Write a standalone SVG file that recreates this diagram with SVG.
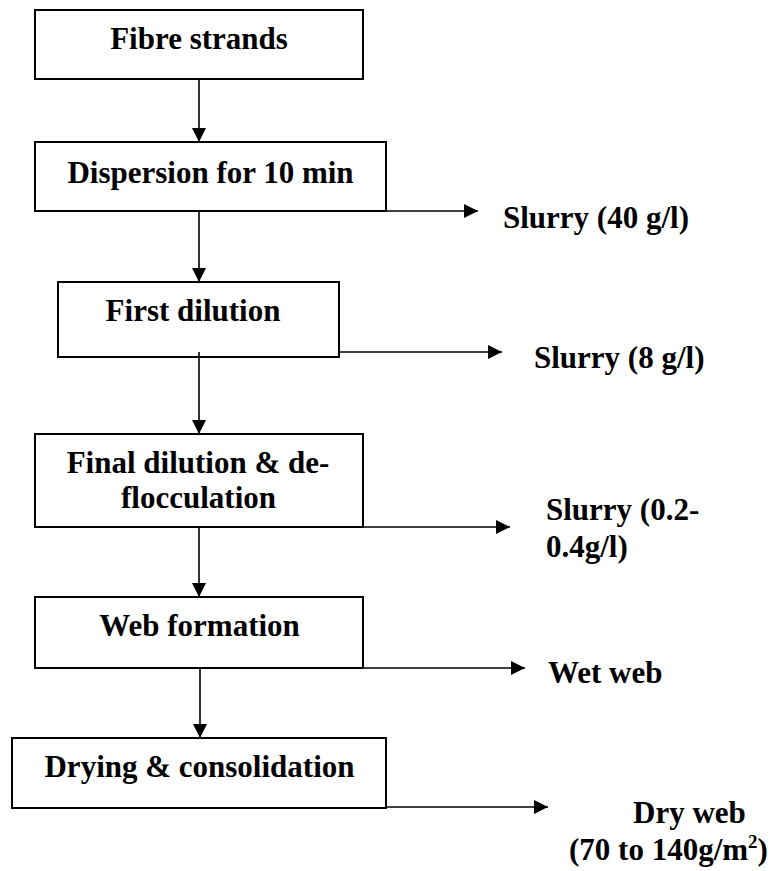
<svg xmlns="http://www.w3.org/2000/svg" width="783" height="871" viewBox="0 0 783 871">
  <style>
    .box { fill: #ffffff; stroke: #000000; stroke-width: 2; }
    .lbl { font-family: "Liberation Serif", "Times New Roman", serif; font-weight: bold; font-size: 31px; fill: #000000; }
    .mid { text-anchor: middle; }
    .conn line { stroke: #000000; stroke-width: 1.6; fill: none; }
  </style>
  <defs>
    <marker id="arrow" viewBox="0 0 14 14" refX="14" refY="7" markerWidth="14" markerHeight="14" markerUnits="userSpaceOnUse" orient="auto">
      <path d="M0,0 L14,7 L0,14 Z" fill="#000000"/>
    </marker>
  </defs>
  <rect width="783" height="871" fill="#ffffff"/>

  <!-- process steps -->
  <g id="fibre-strands">
    <rect class="box" x="35" y="10" width="328" height="69"/>
    <text class="lbl mid" x="199" y="49">Fibre strands</text>
  </g>
  <g id="dispersion">
    <rect class="box" x="35" y="142" width="351" height="69"/>
    <text class="lbl mid" x="210.5" y="183">Dispersion for 10 min</text>
  </g>
  <g id="first-dilution">
    <rect class="box" x="58" y="282" width="281" height="75"/>
    <text class="lbl mid" x="193" y="321">First dilution</text>
  </g>
  <g id="final-dilution">
    <rect class="box" x="35" y="434" width="328" height="93"/>
    <text class="lbl mid" x="198" y="473">Final dilution &amp; de-</text>
    <text class="lbl mid" x="198.5" y="508">flocculation</text>
  </g>
  <g id="web-formation">
    <rect class="box" x="35" y="597" width="328" height="71"/>
    <text class="lbl mid" x="199.5" y="636">Web formation</text>
  </g>
  <g id="drying">
    <rect class="box" x="12" y="738" width="374" height="70"/>
    <text class="lbl mid" x="199.5" y="777">Drying &amp; consolidation</text>
  </g>

  <!-- outputs -->
  <g id="out-slurry-40">
    <text class="lbl" x="503" y="228">Slurry (40 g/l)</text>
  </g>
  <g id="out-slurry-8">
    <text class="lbl" x="534" y="368">Slurry (8 g/l)</text>
  </g>
  <g id="out-slurry-02">
    <text class="lbl" x="546" y="520">Slurry (0.2-</text>
    <text class="lbl" x="546" y="557">0.4g/l)</text>
  </g>
  <g id="out-wet-web">
    <text class="lbl" x="548" y="683">Wet web</text>
  </g>
  <g id="out-dry-web">
    <text class="lbl" x="633" y="823">Dry web</text>
    <text class="lbl" x="569" y="860">(70 to 140g/m<tspan font-size="19" dy="-12">2</tspan><tspan dy="12">)</tspan></text>
  </g>

  <!-- connectors -->
  <g id="connectors" class="conn">
    <line x1="199" y1="79" x2="199" y2="142" marker-end="url(#arrow)"/>
    <line x1="199" y1="211" x2="199" y2="282" marker-end="url(#arrow)"/>
    <line x1="199" y1="352" x2="199" y2="434" marker-end="url(#arrow)"/>
    <line x1="199" y1="527" x2="199" y2="597" marker-end="url(#arrow)"/>
    <line x1="200" y1="668" x2="200" y2="738" marker-end="url(#arrow)"/>

    <line x1="386" y1="211" x2="478" y2="211" marker-end="url(#arrow)"/>
    <line x1="339" y1="352" x2="502" y2="352" marker-end="url(#arrow)"/>
    <line x1="363" y1="527" x2="510" y2="527" marker-end="url(#arrow)"/>
    <line x1="363" y1="668" x2="525" y2="668" marker-end="url(#arrow)"/>
    <line x1="386" y1="807" x2="548" y2="807" marker-end="url(#arrow)"/>
  </g>
</svg>
